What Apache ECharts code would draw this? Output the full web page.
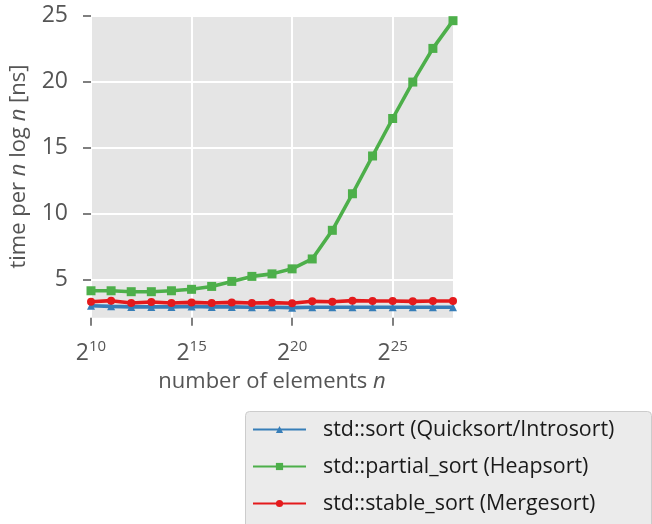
<!DOCTYPE html>
<html><head><meta charset="utf-8">
<script src="https://cdn.jsdelivr.net/npm/echarts@6/dist/echarts.min.js"></script>
<style>html,body{margin:0;padding:0;background:#fff;}#c{width:652px;height:524px;}</style>
</head><body><div id="c"></div>
<script>
const exponents = [10,11,12,13,14,15,16,17,18,19,20,21,22,23,24,25,26,27,28];
const quickValues = [3.01,2.96,2.92,2.92,2.92,2.95,2.92,2.92,2.89,2.89,2.86,2.89,2.89,2.89,2.89,2.89,2.89,2.89,2.89];
const heapValues = [4.14,4.14,4.07,4.07,4.14,4.25,4.47,4.85,5.23,5.42,5.80,6.55,8.72,11.49,14.35,17.19,19.95,22.5,24.6];
const mergeValues = [3.31,3.39,3.21,3.29,3.21,3.26,3.21,3.26,3.21,3.24,3.19,3.34,3.31,3.39,3.36,3.36,3.34,3.36,3.36];
const seriesNames = ['std::sort (Quicksort/Introsort)','std::partial_sort (Heapsort)','std::stable_sort (Mergesort)'];
const xTicks = [10,15,20,25];
const yTicks = [5,10,15,20,25];

const FONT = 'Open Sans';
const GRAY = '#555555';
function pairs(vals){ return exponents.map((e,i)=>[e, vals[i]]); }
const nameRich = {
  r:{fontFamily:FONT, fontSize:22, color:GRAY},
  i:{fontFamily:FONT, fontStyle:'italic', fontSize:22, color:GRAY}
};

const chart = echarts.init(document.getElementById('c'), null, {renderer:'canvas'});
chart.setOption({
  animation:false,
  backgroundColor:'#ffffff',
  textStyle:{fontFamily:FONT},
  grid:{left:87, right:199, top:15.4, bottom:206.3, show:true, backgroundColor:'#e5e5e5', borderWidth:0, containLabel:false},
  graphic:[{type:'rect', left:245, top:411, z:-1, shape:{width:406, height:140, r:4},
    style:{fill:'#ebebeb', stroke:'#cccccc', lineWidth:1}}],
  xAxis:{
    type:'value', min:10, max:28,
    name:'{r|number of elements }{i|n}', nameLocation:'middle', nameGap:53,
    nameTextStyle:{fontFamily:FONT, fontSize:22, color:GRAY, rich:nameRich},
    axisLine:{show:false},
    axisTick:{show:true, length:8, lineStyle:{color:GRAY, width:1.5}, customValues:xTicks},
    axisLabel:{margin:22, customValues:xTicks, color:GRAY, fontFamily:FONT,
      formatter:v=>'{b|2}{s|'+v+'}',
      rich:{b:{fontSize:23, color:GRAY, fontFamily:FONT, verticalAlign:'bottom'}, s:{fontSize:15, color:GRAY, fontFamily:FONT, verticalAlign:'top', padding:[0,0,10,0]}}},
    splitLine:{show:true, lineStyle:{color:'#ffffff', width:2}}
  },
  yAxis:{
    type:'value', min:2.1, max:25,
    name:'{r|time per }{i|n}{r| log }{i|n}{r| [ns]}', nameLocation:'middle', nameGap:61, nameRotate:90,
    nameTextStyle:{fontFamily:FONT, fontSize:22, color:GRAY, rich:nameRich},
    axisLine:{show:false},
    axisTick:{show:true, length:8, lineStyle:{color:GRAY, width:1.5}, customValues:yTicks},
    axisLabel:{margin:23, customValues:yTicks, color:GRAY, fontSize:23, fontFamily:FONT},
    splitLine:{show:true, lineStyle:{color:'#ffffff', width:2}}
  },
  legend:{
    left:252, top:419, orient:'vertical',
    padding:0, height:200,
    itemWidth:53, itemHeight:9, itemGap:16,
    textStyle:{fontFamily:FONT, fontSize:21.4, color:'#1a1a1a', padding:[0,0,0,12]},
    data:seriesNames
  },
  series:[
    {name:seriesNames[0], type:'line', data:pairs(quickValues), symbol:'triangle', symbolSize:8,
     color:'#377eb8', lineStyle:{width:3.6, color:'#377eb8'}, itemStyle:{color:'#377eb8'}, z:2},
    {name:seriesNames[1], type:'line', data:pairs(heapValues), symbol:'rect', symbolSize:9,
     color:'#4daf4a', lineStyle:{width:3.6, color:'#4daf4a'}, itemStyle:{color:'#4daf4a'}, z:3},
    {name:seriesNames[2], type:'line', data:pairs(mergeValues), symbol:'circle', symbolSize:8,
     color:'#e41a1c', lineStyle:{width:3.6, color:'#e41a1c'}, itemStyle:{color:'#e41a1c'}, z:4}
  ]
});
</script></body></html>
